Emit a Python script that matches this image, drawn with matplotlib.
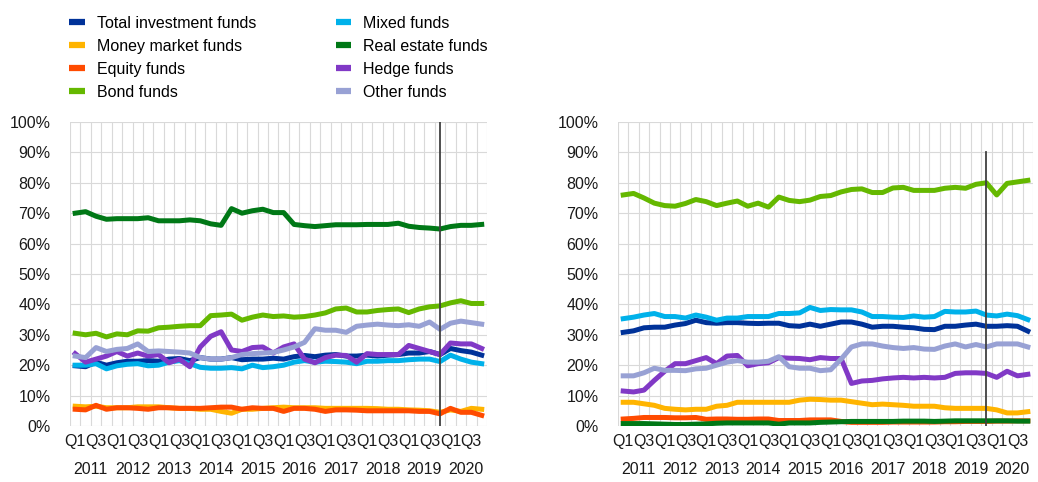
import matplotlib.pyplot as plt
import numpy as np

plt.rcParams['font.family'] = ['Liberation Sans', 'DejaVu Sans']
plt.rcParams['font.size'] = 11.5

# Data: share of holdings (%), quarterly Q1 2011 - Q4 2020
years = [str(y) for y in range(2011, 2021)]
quarters = [f"Q{q}" for y in years for q in range(1, 5)]

series_names = ["Total investment funds", "Money market funds", "Equity funds", "Bond funds",
                "Mixed funds", "Real estate funds", "Hedge funds", "Other funds"]
colors = ["#003299", "#ffb400", "#ff4b00", "#65b800",
          "#00b1ea", "#007816", "#8139c6", "#98a1d4"]

# left panel
left_total = [19.8, 19.5, 21.0, 20.0, 20.8, 21.3, 21.3, 21.5, 21.3, 22.0,
              22.2, 21.5, 22.5, 22.0, 22.0, 22.5, 21.8, 22.0, 22.0, 22.3,
              22.0, 22.8, 23.2, 22.8, 23.3, 23.5, 23.0, 23.0, 23.3, 23.0,
              23.3, 23.5, 24.0, 24.0, 24.5, 23.5, 25.5, 24.8, 24.3, 23.3]
left_mmf = [6.5, 6.3, 6.5, 6.0, 6.0, 6.0, 6.3, 6.3, 6.3, 6.0,
            5.8, 5.8, 5.5, 5.5, 4.8, 4.2, 5.5, 5.5, 5.8, 6.0,
            6.2, 6.0, 6.0, 6.0, 5.8, 5.8, 5.8, 5.8, 5.8, 5.7,
            5.5, 5.5, 5.3, 5.2, 5.0, 4.5, 5.3, 4.8, 5.8, 5.5]
left_equity = [5.5, 5.3, 6.8, 5.5, 6.0, 6.0, 5.8, 5.5, 6.0, 6.0,
               5.8, 5.8, 5.8, 6.0, 6.2, 6.2, 5.5, 6.0, 5.8, 5.8,
               4.8, 5.8, 5.8, 5.5, 4.8, 5.3, 5.3, 5.2, 5.0, 5.0,
               5.0, 5.0, 5.0, 4.8, 4.8, 4.0, 5.8, 4.5, 4.5, 3.5]
left_bond = [30.5, 30.0, 30.5, 29.3, 30.3, 30.0, 31.3, 31.2, 32.3, 32.5,
             32.8, 33.0, 33.0, 36.3, 36.5, 36.8, 34.8, 35.8, 36.5, 36.0,
             36.2, 35.8, 36.0, 36.5, 37.2, 38.5, 38.8, 37.5, 37.5, 38.0,
             38.3, 38.5, 37.3, 38.5, 39.2, 39.5, 40.5, 41.2, 40.3, 40.3]
left_mixed = [20.0, 20.0, 20.5, 18.8, 19.8, 20.3, 20.5, 19.8, 20.0, 21.0,
              21.5, 20.5, 19.3, 19.0, 19.0, 19.2, 18.8, 20.0, 19.2, 19.5,
              20.0, 21.0, 21.5, 21.0, 21.3, 21.2, 21.0, 20.5, 21.3, 21.3,
              21.5, 21.5, 21.8, 22.0, 22.0, 21.2, 23.3, 22.0, 21.0, 20.5]
left_realestate = [70.0, 70.5, 69.0, 68.0, 68.2, 68.2, 68.2, 68.5, 67.5, 67.5,
                   67.5, 67.8, 67.5, 66.5, 66.0, 71.5, 70.0, 70.8, 71.3, 70.2,
                   70.2, 66.3, 65.9, 65.6, 65.9, 66.2, 66.2, 66.2, 66.3, 66.3,
                   66.3, 66.7, 65.7, 65.3, 65.1, 64.8, 65.6, 66.0, 66.0, 66.3]
left_hedge = [23.8, 21.0, 22.0, 23.0, 24.5, 23.0, 24.0, 23.0, 23.5, 20.8,
              22.0, 19.5, 26.0, 29.5, 31.0, 25.0, 24.5, 25.8, 26.0, 24.0,
              26.0, 27.0, 22.0, 20.8, 22.5, 23.3, 23.2, 21.0, 23.8, 23.5,
              23.5, 23.5, 26.5, 25.5, 24.5, 23.5, 27.3, 27.0, 27.0, 25.5]
left_other = [23.0, 22.5, 25.8, 24.5, 25.2, 25.5, 27.0, 24.5, 24.7, 24.5,
              24.3, 24.0, 22.5, 22.0, 22.0, 22.5, 23.5, 23.8, 24.0, 24.2,
              25.0, 26.0, 27.5, 32.0, 31.5, 31.5, 30.8, 32.8, 33.2, 33.5,
              33.2, 33.0, 33.3, 32.8, 34.2, 31.8, 33.8, 34.5, 34.0, 33.5]

# right panel
right_total = [30.8, 31.3, 32.3, 32.5, 32.5, 33.2, 33.7, 34.8, 34.0, 33.8,
               34.0, 34.0, 33.8, 33.7, 33.8, 33.8, 33.0, 32.8, 33.5, 32.8,
               33.5, 34.2, 34.2, 33.5, 32.5, 32.8, 32.8, 32.5, 32.3, 31.8,
               31.7, 32.8, 32.8, 33.2, 33.5, 32.8, 32.8, 33.0, 32.8, 31.2]
right_mmf = [7.8, 7.8, 7.3, 6.8, 5.8, 5.5, 5.3, 5.5, 5.5, 6.5,
             6.8, 7.8, 7.8, 7.8, 7.8, 7.8, 7.8, 8.5, 8.8, 8.7,
             8.5, 8.5, 8.0, 7.5, 7.0, 7.2, 7.0, 6.8, 6.5, 6.5,
             6.5, 6.0, 5.8, 5.8, 5.8, 5.8, 5.3, 4.3, 4.3, 4.7]
right_equity = [2.3, 2.5, 2.8, 2.8, 2.8, 2.7, 2.7, 2.8, 2.2, 2.3,
                2.3, 2.2, 2.2, 2.3, 2.3, 1.8, 1.8, 1.8, 2.0, 2.0,
                2.0, 1.5, 1.2, 1.2, 1.2, 1.2, 1.3, 1.3, 1.3, 1.3,
                1.3, 1.4, 1.4, 1.5, 1.5, 1.5, 1.6, 1.6, 1.7, 1.7]
right_bond = [76.0, 76.5, 75.0, 73.3, 72.5, 72.3, 73.2, 74.5, 73.8, 72.5,
              73.3, 74.0, 72.3, 73.3, 72.0, 75.3, 74.2, 73.8, 74.3, 75.5,
              75.8, 77.0, 77.8, 78.0, 76.8, 76.8, 78.3, 78.5, 77.5, 77.5,
              77.5, 78.2, 78.5, 78.2, 79.5, 80.0, 76.0, 79.8, 80.3, 80.8]
right_mixed = [35.3, 35.8, 36.5, 37.0, 36.0, 36.0, 35.5, 36.5, 35.8, 34.8,
               35.5, 35.5, 36.0, 36.0, 36.0, 37.0, 37.0, 37.2, 39.0, 38.0,
               38.3, 38.2, 38.2, 37.5, 36.0, 36.0, 35.8, 35.7, 36.2, 35.8,
               36.0, 37.7, 37.5, 37.5, 37.8, 36.5, 36.2, 36.8, 36.3, 35.0]
right_realestate = [0.8, 0.8, 0.8, 0.7, 0.6, 0.5, 0.5, 0.6, 0.7, 0.9,
                    1.0, 1.0, 1.0, 1.0, 1.0, 0.6, 1.0, 1.0, 1.0, 1.2,
                    1.3, 1.4, 1.5, 1.5, 1.5, 1.5, 1.5, 1.6, 1.6, 1.6,
                    1.5, 1.6, 1.7, 1.7, 1.7, 1.7, 1.7, 1.7, 1.6, 1.6]
right_hedge = [11.5, 11.2, 11.8, 15.0, 18.0, 20.5, 20.5, 21.5, 22.5, 20.5,
               23.0, 23.2, 19.8, 20.5, 20.8, 22.5, 22.3, 22.2, 21.8, 22.5,
               22.2, 22.2, 14.0, 14.8, 15.0, 15.5, 15.8, 16.0, 15.8, 16.0,
               15.8, 16.0, 17.3, 17.5, 17.5, 17.3, 16.0, 18.0, 16.5, 17.0]
right_other = [16.5, 16.5, 17.5, 19.0, 18.3, 18.3, 18.2, 18.8, 19.0, 20.0,
               21.0, 21.5, 21.0, 21.0, 21.3, 22.8, 19.5, 19.0, 19.0, 18.2,
               18.5, 22.0, 26.0, 27.0, 27.0, 26.3, 25.8, 25.5, 25.8, 25.3,
               25.2, 26.3, 27.0, 26.0, 26.8, 26.0, 27.0, 27.0, 27.0, 26.0]

left_series = [left_total, left_mmf, left_equity, left_bond,
               left_mixed, left_realestate, left_hedge, left_other]
right_series = [right_total, right_mmf, right_equity, right_bond,
                right_mixed, right_realestate, right_hedge, right_other]

x = np.arange(len(quarters))

fig = plt.figure(figsize=(10.38, 4.82), dpi=100)
ax_l = fig.add_axes([0.0674, 0.1162, 0.4017, 0.6307])
ax_r = fig.add_axes([0.5954, 0.1162, 0.3998, 0.6307])

grid_col = "#d9d9d9"

for ax, data, vtop in [(ax_l, left_series, 100), (ax_r, right_series, 90)]:
    # gridlines between quarters + every 10%
    for b in np.arange(-0.5, len(x), 1.0):
        ax.axvline(b, color=grid_col, lw=0.8, zorder=0)
    for yv in range(0, 101, 10):
        ax.axhline(yv, color=grid_col, lw=0.8, zorder=0)

    for vals, name, c in zip(data, series_names, colors):
        ax.plot(x, vals, color=c, lw=3.6, label=name, solid_joinstyle='round', zorder=2)

    # marker line at Q4 2019
    ax.plot([35, 35], [0, vtop], color="#404040", lw=1.3, zorder=3)

    ax.set_xlim(-0.5, len(x) - 0.5)
    ax.set_ylim(0, 100)
    ax.set_yticks(range(0, 101, 10))
    ax.set_yticklabels([f"{v}%" for v in range(0, 101, 10)])

    tick_pos = [i for i, q in enumerate(quarters) if q in ("Q1", "Q3")]
    ax.set_xticks(tick_pos)
    ax.set_xticklabels([quarters[i] for i in tick_pos])
    ax.tick_params(length=0, pad=6, labelsize=11.5, colors="#1a1a1a")
    ax.tick_params(axis='y', pad=14)
    for s in ax.spines.values():
        s.set_visible(False)

    for k, yr in enumerate(years):
        ax.text(4 * k + 1.5, -0.12, yr, transform=ax.get_xaxis_transform(),
                ha='center', va='top', fontsize=11.5, color="#1a1a1a")

handles, labels = ax_l.get_legend_handles_labels()
leg = fig.legend(handles, labels, ncol=2, loc='upper left', bbox_to_anchor=(0.053, 0.997),
                 frameon=False, handlelength=0.95, handletextpad=0.75,
                 columnspacing=5.0, labelspacing=0.5, fontsize=11.5)
for h in leg.get_lines():
    h.set_linewidth(4.5)
    h.set_solid_capstyle('butt')

fig.savefig("out.png", dpi=100)
